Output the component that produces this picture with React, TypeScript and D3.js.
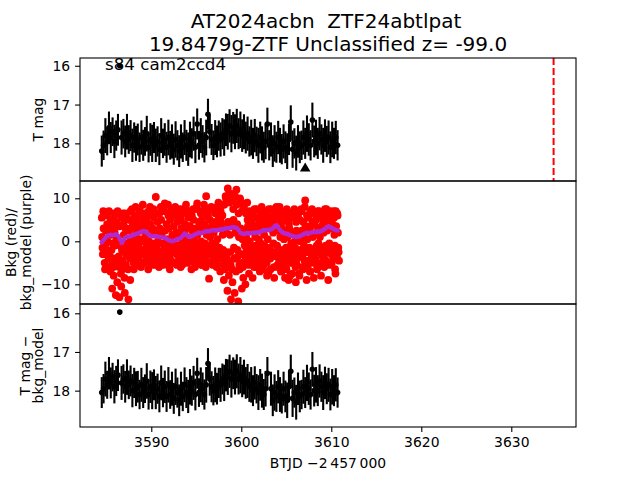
import React, { useEffect, useRef } from 'react';
import * as d3 from 'd3';

// cadence grid of the light curve (BTJD - 2457000)
const tStart = 3584.5;
const cadence = 0.2;

const tmag = [
  18.20, 18.05, 17.80, 17.95, 17.60, 17.85, 17.70, 17.95, 17.80, 17.65,
  16.00, 17.85, 17.75, 17.95, 17.70, 17.90, 17.80, 18.05, 17.85, 18.00,
  17.90, 18.10, 17.85, 18.05, 17.95, 17.75, 18.10, 17.90, 18.00, 17.85,
  18.05, 17.95, 18.15, 17.80, 18.00, 17.90, 18.10, 17.85, 18.05, 17.95,
  18.15, 17.90, 18.05, 18.20, 17.95, 18.10, 17.85, 18.05, 18.15, 17.90,
  18.00, 17.75, 18.10, 17.50, 18.05, 17.80, 17.95, 18.10, 17.85, 17.25,
  17.70, 17.90, 18.05, 17.85, 17.95, 17.80, 17.90, 17.75, 17.85, 17.65,
  17.70, 17.55, 17.75, 17.60, 17.70, 17.55, 17.75, 17.65, 17.80, 17.70,
  17.85, 17.75, 17.95, 17.85, 18.00, 17.80, 17.95, 18.05, 17.85, 18.00,
  18.10, 17.95, 17.50, 18.05, 17.90, 18.20, 18.00, 18.10, 17.85, 18.05,
  18.15, 17.95, 18.10, 18.20, 17.90, 17.45, 18.15, 18.00, 18.25, 17.95,
  18.10, 18.05, 17.85, 18.00, 17.75, 17.90, 18.05, 17.40, 17.95, 17.85,
  18.00, 17.75, 17.90, 18.05, 17.80, 17.95, 17.85, 18.10, 17.90, 18.00, 17.85, 18.05,
];

const tmagErr = [
  0.40, 0.38, 0.45, 0.36, 0.42, 0.40, 0.37, 0.43, 0.39, 0.41,
  0.05, 0.44, 0.38, 0.41, 0.46, 0.37, 0.40, 0.43, 0.39, 0.45,
  0.41, 0.38, 0.44, 0.40, 0.37, 0.46, 0.39, 0.42, 0.48, 0.40,
  0.43, 0.39, 0.41, 0.45, 0.38, 0.42, 0.40, 0.46, 0.37, 0.44,
  0.40, 0.47, 0.39, 0.41, 0.44, 0.38, 0.45, 0.40, 0.43, 0.46,
  0.39, 0.44, 0.41, 0.40, 0.37, 0.45, 0.42, 0.39, 0.46, 0.40,
  0.43, 0.40, 0.38, 0.45, 0.41, 0.39, 0.44, 0.40, 0.47, 0.42,
  0.46, 0.43, 0.48, 0.41, 0.45, 0.44, 0.40, 0.47, 0.42, 0.45,
  0.41, 0.44, 0.39, 0.46, 0.40, 0.43, 0.38, 0.45, 0.41, 0.44,
  0.40, 0.46, 0.42, 0.39, 0.44, 0.41, 0.47, 0.40, 0.43, 0.45,
  0.39, 0.44, 0.41, 0.46, 0.40, 0.43, 0.48, 0.39, 0.45, 0.42,
  0.41, 0.38, 0.44, 0.40, 0.47, 0.42, 0.39, 0.45, 0.41, 0.46,
  0.40, 0.43, 0.39, 0.45, 0.42, 0.40, 0.44, 0.41, 0.46, 0.40, 0.43, 0.39,
];

const diffMag = [
  18.05, 17.95, 17.70, 17.85, 17.55, 17.80, 17.65, 17.90, 17.75, 17.60,
  15.97, 17.80, 17.70, 17.90, 17.65, 17.85, 17.75, 18.00, 17.80, 17.95,
  17.90, 18.10, 17.85, 18.05, 17.95, 17.75, 18.10, 17.90, 18.00, 17.85,
  18.05, 17.95, 18.15, 17.80, 18.05, 17.90, 18.15, 17.85, 18.10, 17.95,
  18.20, 17.90, 18.05, 18.25, 17.95, 18.15, 17.85, 18.05, 18.15, 17.90,
  18.00, 17.80, 18.10, 17.55, 18.05, 17.85, 17.95, 18.10, 17.85, 17.30,
  17.70, 17.90, 18.00, 17.85, 17.95, 17.80, 17.85, 17.70, 17.80, 17.60,
  17.65, 17.50, 17.70, 17.55, 17.65, 17.50, 17.70, 17.60, 17.75, 17.65,
  17.80, 17.75, 17.90, 17.85, 18.00, 17.80, 17.95, 18.05, 17.85, 18.00,
  18.10, 17.95, 17.55, null, 17.95, 18.25, 18.05, 18.15, 17.90, 18.10,
  18.20, 17.95, 18.15, 18.25, 17.90, 17.50, 18.20, 18.05, 18.30, 17.95,
  18.15, 18.10, 17.90, 18.05, 17.80, 17.95, 18.10, 17.45, 18.00, 17.85,
  18.00, 17.75, 17.90, 18.05, 17.80, 17.95, 17.85, 18.10, 17.90, 18.00, 17.85, 18.05,
];

const bkgModel = [
  -0.2, 0.3, 0.8, 1.2, 1.4, 1.5, 1.4, 1.5, 1.6, 1.3,
  0.5, -0.4, 0.2, 0.8, 1.0, 1.1, 1.2, 1.4, 1.5, 1.7,
  1.8, 2.0, 2.2, 2.4, 2.3, 2.0, 1.6, 1.3, 1.2, 1.1,
  1.2, 1.1, 1.0, 1.0, 0.9, 0.8, 0.6, 0.3, 0.1, 0.0,
  0.1, 0.3, 0.5, 0.6, 0.8, 1.3, 1.8, 1.5, 1.1, 1.0,
  1.2, 1.4, 1.6, 1.8, 2.0, 1.9, 2.0, 2.2, 2.4, 2.3,
  2.4, 2.5, 2.6, 2.5, 2.6, 2.7, 2.8, 2.7, 2.9, 3.0,
  3.1, 3.0, 3.2, 3.3, 3.2, 3.1, 2.6, 2.0, 1.8, 1.7,
  1.8, 1.9, 1.8, 1.9, 2.0, 1.9, 2.1, 2.0, 2.2, 2.4,
  2.6, 2.5, 2.7, 2.6, 2.8, 3.0, 3.5, 3.7, 3.2, 2.6,
  2.2, 1.9, 1.8, 1.7, 1.5, 1.4, 1.2, 1.1, 1.0, 1.1,
  1.2, 1.4, 1.6, 1.8, 1.9, 1.8, 2.0, 2.1, 2.2, 2.1,
  2.3, 2.2, 2.4, 2.6, 2.9, 3.2, 3.4, 3.3, 3.0, 2.8, 2.6, 2.5,
];

// background flux, five cadences per grid step
const bkgHi = [
  5.5, 3.0, 6.5, 4.0, 7.0, 5.0, 3.5, 6.0, 4.5, 6.5,
  3.5, 5.5, 4.0, 6.5, 3.0, 5.0, 7.0, 4.5, 6.0, 5.5,
  4.0, 7.5, 5.5, 3.5, 6.5, 5.0, 7.0, 4.0, 6.0, 5.5,
  10.3, 4.5, 6.5, 5.0, 7.5, 8.8, 4.0, 6.0, 5.0, 7.0,
  3.5, 6.0, 4.5, 7.5, 5.0, 6.5, 4.0, 7.0, 5.5, 3.5,
  6.0, 5.0, 7.5, 8.8, 4.5, 6.5, 5.5, 7.0, 10.5, 6.0,
  5.0, 7.5, 4.5, 6.5, 8.0, 5.5, 7.0, 6.0, 8.5, 10.0,
  12.3, 9.0, 11.0, 7.5, 10.5, 8.5, 6.5, 9.5, 7.0, 8.0,
  6.5, 5.0, 7.0, 4.5, 6.0, 5.5, 7.5, 4.0, 6.5, 5.0,
  7.0, 5.5, 6.0, 4.5, 7.5, 5.0, 6.5, 8.0, 5.5, 7.0,
  4.5, 6.5, 5.0, 7.0, 4.0, 6.0, 5.5, 7.5, 4.5, 6.0,
  5.0, 7.0, 4.5, 9.5, 6.0, 5.5, 7.0, 4.5, 6.5, 5.0,
  7.0, 5.5, 6.0, 4.5, 7.5, 6.0, 5.0, 7.0, 6.5, 5.5, 7.0, 6.0,
];

const bkgMid = [
  1.0, -1.5, 2.5, 0.0, 3.0, 1.5, -0.5, 2.0, 0.5, 3.5,
  -1.0, -2.0, 1.5, 3.0, -0.5, 2.5, 0.5, 3.5, 1.0, 2.0,
  3.0, 0.5, 2.5, 4.0, 1.0, 3.5, 0.0, 2.0, 3.0, -0.5,
  2.0, 0.0, 3.0, 1.5, -0.5, 2.5, 0.5, 3.0, -1.0, 1.5,
  0.5, 2.0, -1.0, 1.5, 3.0, 0.0, 2.5, 1.0, 3.5, 0.0,
  2.5, 0.5, 3.0, 1.5, 3.5, 0.0, 2.5, 4.0, 1.5, 3.0,
  1.0, 3.5, 2.0, 4.0, 0.5, 3.0, 4.5, 1.5, 3.5, 2.0,
  4.5, 1.5, 3.5, 5.0, 2.0, 4.0, 1.0, 3.0, 0.5, 2.5,
  1.0, 3.5, 0.0, 2.5, 3.5, 1.0, 3.0, 0.5, 2.5, 4.0,
  1.5, 3.5, 0.5, 3.0, 4.5, 2.0, 4.0, 5.0, 2.5, 1.0,
  3.0, 0.5, 2.5, 1.0, 3.0, -0.5, 2.0, 0.0, 2.5, 1.5,
  0.0, 2.5, 1.0, 3.5, 0.5, 2.5, 3.5, 1.0, 4.0, 2.0,
  3.0, 1.0, 3.5, 2.0, 4.5, 2.5, 5.0, 3.0, 4.0, 1.5, 3.5, 2.0,
];

const bkgFill = [
  -1.5, -3.0, -0.5, -2.5, -4.0, -2.0, -6.0, -1.0, -5.0, -3.5,
  -4.5, -6.5, -2.5, -5.5, -1.5, -3.0, -1.0, -2.5, -0.5, -3.5,
  -1.0, -3.0, -2.0, 0.0, -3.5, -1.5, -2.5, -0.5, -2.0, -3.0,
  -1.5, -2.5, -0.5, -3.0, -2.0, -1.0, -3.5, -1.5, -2.5, -0.5,
  -2.5, -1.0, -3.0, -2.0, -0.5, -3.5, -1.5, -2.0, -1.0, -3.0,
  -1.0, -2.5, -0.5, -2.0, -3.5, -1.5, -2.0, -0.5, -3.0, -1.5,
  -2.0, -0.5, -3.0, -1.0, -2.5, -1.5, -3.5, -2.0, -4.5, -2.5,
  -5.0, -2.5, -6.5, -1.5, -4.0, -2.0, -5.5, -3.0, -6.0, -1.0,
  -2.0, -0.5, -3.0, -1.5, -2.5, -1.0, -3.5, -2.0, -0.5, -2.5,
  -1.0, -2.0, -4.0, -1.5, -3.0, -0.5, -2.5, -1.0, -3.5, -2.0,
  -2.5, -4.5, -1.5, -3.0, -5.0, -2.0, -4.0, -1.5, -5.5, -3.0,
  -2.0, -3.5, -1.0, -4.5, -2.5, -1.5, -4.0, -2.0, -3.0, -1.0,
  -0.5, -2.5, -1.5, -3.5, -1.0, -2.5, -0.5, -2.0, -3.0, -1.0, -2.0, -1.5,
];

const bkgLo = [
  -3.0, -5.0, -2.0, -6.0, -3.5, -5.5, -8.0, -4.0, -9.5, -6.0,
  -7.5, -4.5, -8.5, -3.0, -6.5, -4.0, -2.5, -5.0, -3.5, -1.5,
  -4.5, -2.0, -5.0, -3.0, -1.5, -4.0, -2.5, -5.5, -3.0, -4.5,
  -2.0, -4.5, -3.0, -5.0, -4.0, -2.5, -5.5, -3.5, -4.5, -2.0,
  -5.0, -3.0, -4.5, -2.5, -5.5, -4.0, -3.0, -5.0, -2.5, -4.5,
  -3.5, -5.0, -2.0, -4.5, -3.0, -5.5, -2.5, -4.0, -5.0, -8.7,
  -3.0, -4.5, -2.0, -5.0, -3.5, -4.0, -2.5, -5.5, -6.5, -4.0,
  -8.0, -5.5, -9.5, -4.0, -7.0, -3.5, -6.5, -5.0, -8.5, -4.5,
  -3.5, -5.5, -2.5, -4.5, -6.0, -3.0, -5.0, -2.0, -4.0, -6.5,
  -3.0, -5.0, -7.5, -4.0, -2.5, -6.0, -3.5, -5.5, -4.5, -7.0,
  -5.5, -3.5, -6.5, -4.5, -8.0, -5.0, -3.0, -6.0, -4.0, -7.5,
  -3.5, -6.0, -4.5, -2.5, -5.5, -7.0, -3.0, -5.0, -4.0, -6.5,
  -2.5, -5.0, -3.5, -6.0, -4.5, -2.0, -5.5, -3.0, -4.0, -6.5, -3.5, -2.5,
];

const bkgOut = [
  7.0, -6.5, 6.0, -4.0, -7.0, -11.0, 6.5, -12.5, 7.0, -13.0,
  -10.5, 6.5, -12.0, 5.5, -13.5, -9.0, 7.5, -6.5, 8.0, -5.5,
  7.0, -6.0, 8.5, -5.0, 6.0, -6.5, 8.0, -4.5, 7.5, -5.5,
  6.5, -6.0, 8.0, -5.5, 7.0, -4.0, 8.5, -6.5, 7.5, -5.0,
  8.0, -5.5, 6.5, -6.0, 7.5, -5.0, 8.5, -4.0, 7.0, -6.5,
  7.5, -6.0, 8.0, -4.5, 7.0, -5.5, 8.5, -6.0, 7.5, -5.0,
  8.0, -5.5, 7.0, -6.0, 9.0, -7.0, 8.5, -9.0, 10.5, -11.5,
  11.0, -13.5, 9.5, -12.0, 12.0, -14.0, 10.0, -11.0, 8.5, -10.0,
  9.0, -7.5, 6.0, -8.5, 7.5, -6.0, 5.5, -7.0, 8.0, -5.5,
  6.5, -8.0, 7.5, -6.5, 5.5, -8.5, 7.0, -6.0, 8.0, -7.0,
  6.0, -8.5, 7.5, -9.0, 5.5, -7.5, 7.0, -9.5, 6.5, -8.0,
  7.5, -6.5, 8.0, -9.0, 6.0, -7.0, 7.5, -8.5, 6.5, -6.0,
  7.0, -8.0, 6.5, -5.5, 7.5, -9.0, 6.0, -5.0, 7.0, -7.5, 6.5, -4.5,
];

const limitTime = [3607.1];
const limitMag = [18.65];
const alertTime = 3634.7;

const xTicks = [3590, 3600, 3610, 3620, 3630];
const magTicks = [16, 17, 18];
const bkgTicks = [10, 0, -10];

const FONT = 'DejaVu Sans, sans-serif';

const App = () => {
  const svgRef = useRef(null);

  useEffect(() => {
    drawChart();
  }, []);

  const drawChart = () => {
    const svg = d3.select(svgRef.current);
    svg.selectAll('*').remove();

    const left = 80, right = 576;
    const panels = [
      { top: 58, bottom: 181 },
      { top: 181, bottom: 304 },
      { top: 304, bottom: 427 },
    ];

    const x = d3.scaleLinear().domain([3582.08, 3637.19]).range([left, right]);
    const yTop = d3.scaleLinear().domain([15.8, 18.97]).range([58, 181]);
    const yMid = d3.scaleLinear().domain([-14.58, 14.02]).range([304, 181]);
    const yBot = d3.scaleLinear().domain([15.76, 18.94]).range([304, 427]);

    const times = tmag.map((_, i) => tStart + i * cadence);

    const defs = svg.append('defs');
    panels.forEach((p, k) => {
      defs.append('clipPath').attr('id', `clip${k}`)
        .append('rect')
        .attr('x', left).attr('y', p.top)
        .attr('width', right - left).attr('height', p.bottom - p.top);
    });

    // light curve panels with error bars
    const drawErrorbars = (g, values, yScale) => {
      const pts = values
        .map((m, i) => ({ t: times[i], m, e: tmagErr[i] }))
        .filter(d => d.m !== null);
      g.selectAll('line.err')
        .data(pts)
        .enter()
        .append('line')
        .attr('class', 'err')
        .attr('x1', d => x(d.t)).attr('x2', d => x(d.t))
        .attr('y1', d => yScale(d.m - d.e)).attr('y2', d => yScale(d.m + d.e))
        .attr('stroke', 'black')
        .attr('stroke-width', 2.1);
      g.selectAll('circle.pt')
        .data(pts)
        .enter()
        .append('circle')
        .attr('class', 'pt')
        .attr('cx', d => x(d.t))
        .attr('cy', d => yScale(d.m))
        .attr('r', 2.8)
        .attr('fill', 'black');
    };

    const gTop = svg.append('g').attr('clip-path', 'url(#clip0)');
    drawErrorbars(gTop, tmag, yTop);
    gTop.selectAll('path.limit')
      .data(limitTime.map((t, i) => ({ t, m: limitMag[i] })))
      .enter()
      .append('path')
      .attr('class', 'limit')
      .attr('d', d3.symbol(d3.symbolTriangle).size(48))
      .attr('transform', d => `translate(${x(d.t)},${yTop(d.m)})`)
      .attr('fill', 'black');
    gTop.append('line')
      .attr('x1', x(alertTime)).attr('x2', x(alertTime))
      .attr('y1', 58).attr('y2', 181)
      .attr('stroke', 'red')
      .attr('stroke-width', 2)
      .attr('stroke-dasharray', '7,3');

    // background panel
    const gMid = svg.append('g').attr('clip-path', 'url(#clip1)');
    const bkgSets = [bkgHi, bkgMid, bkgFill, bkgLo, bkgOut];
    bkgSets.forEach((set, k) => {
      gMid.selectAll(`circle.bkg${k}`)
        .data(set)
        .enter()
        .append('circle')
        .attr('class', `bkg${k}`)
        .attr('cx', (d, i) => x(times[i] + k * cadence / bkgSets.length))
        .attr('cy', d => yMid(d))
        .attr('r', 3.9)
        .attr('fill', 'red');
    });
    gMid.selectAll('circle.model')
      .data(bkgModel)
      .enter()
      .append('circle')
      .attr('class', 'model')
      .attr('cx', (d, i) => x(times[i]))
      .attr('cy', d => yMid(d))
      .attr('r', 2.3)
      .attr('fill', '#b02ad0');

    const gBot = svg.append('g').attr('clip-path', 'url(#clip2)');
    drawErrorbars(gBot, diffMag, yBot);

    // frames
    panels.forEach(p => {
      svg.append('rect')
        .attr('x', left).attr('y', p.top)
        .attr('width', right - left).attr('height', p.bottom - p.top)
        .attr('fill', 'none')
        .attr('stroke', 'black')
        .attr('stroke-width', 1.1);
    });

    const styleAxis = g => {
      g.select('.domain').remove();
      g.selectAll('line').attr('stroke', 'black').attr('stroke-width', 1.1);
      g.selectAll('text')
        .attr('fill', 'black')
        .style('font-family', FONT)
        .style('font-size', '13.9px');
    };

    svg.append('g')
      .attr('transform', `translate(${left},0)`)
      .call(d3.axisLeft(yTop).tickValues(magTicks).tickSize(4.9).tickPadding(4.9).tickFormat(d3.format('d')))
      .call(styleAxis);
    svg.append('g')
      .attr('transform', `translate(${left},0)`)
      .call(d3.axisLeft(yMid).tickValues(bkgTicks).tickSize(4.9).tickPadding(4.9).tickFormat(d3.format('d')))
      .call(styleAxis);
    svg.append('g')
      .attr('transform', `translate(${left},0)`)
      .call(d3.axisLeft(yBot).tickValues(magTicks).tickSize(4.9).tickPadding(4.9).tickFormat(d3.format('d')))
      .call(styleAxis);
    svg.append('g')
      .attr('transform', `translate(0,427)`)
      .call(d3.axisBottom(x).tickValues(xTicks).tickSize(4.9).tickPadding(4.9).tickFormat(d3.format('d')))
      .call(styleAxis);

    const addText = (str, tx, ty, size, anchor = 'middle', rotate = false) => {
      svg.append('text')
        .attr('transform', rotate ? `translate(${tx},${ty}) rotate(-90)` : `translate(${tx},${ty})`)
        .attr('text-anchor', anchor)
        .style('font-family', FONT)
        .style('font-size', `${size}px`)
        .style('white-space', 'pre')
        .attr('fill', 'black')
        .text(str);
    };

    addText('s84 cam2ccd4', 105, 70, 16.7, 'start');
    addText('AT2024acbn  ZTF24abtlpat', 326, 28, 20);
    addText('19.8479g-ZTF Unclassified z= -99.0', 328, 51, 20);
    addText('BTJD \u22122\u2009457\u2009000', 328, 468, 13.9);

    addText('T mag', 43.3, 119.5, 13.9, 'middle', true);
    addText('Bkg (red)/', 16, 242.5, 13.9, 'middle', true);
    addText('bkg_model (purple)', 31, 242.5, 13.9, 'middle', true);
    addText('T mag \u2212', 29.8, 365.5, 13.9, 'middle', true);
    addText('bkg_model', 43.3, 365.5, 13.9, 'middle', true);
  };

  return (
    <svg
      ref={svgRef}
      width={640}
      height={480}
      style={{ position: 'absolute', left: 0, top: 0, background: 'white' }}
    />
  );
};

export default App;
